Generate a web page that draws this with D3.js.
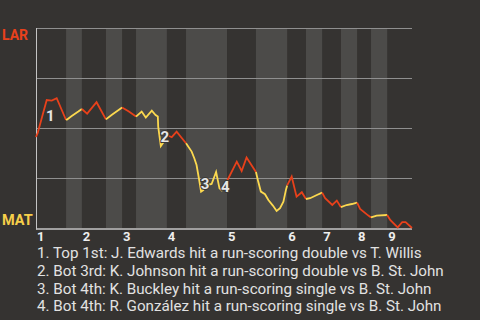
<!DOCTYPE html>
<html><head><meta charset="utf-8">
<script src="https://cdn.jsdelivr.net/npm/d3@7"></script>
<style>html,body{margin:0;padding:0;background:#353331;}svg{display:block;}</style>
</head><body><svg id="c" width="480" height="320"></svg>
<script>
// Game progress (0-100) at which each half-inning starts (top 1st ... top 9th)
const halfStarts = [0, 8.0, 12.2, 18.6, 22.9, 26.6, 34.8, 39.9, 50.8, 58.5, 66.8, 71.8, 76.1, 81.1, 85.4, 89.1, 93.4];
const gameEnd = 100;
const inningLabels = ["1","2","3","4","5","6","7","8","9"];
// Win probability line: game progress and LAR win probability (%)
const progress = [0,0.45,2.85,4.2,5.5,8.0, 8.3,9.5,11.25,12.2, 13.6,16.1,18.6, 20.1,22.9, 24.7,26.6,
  28.1,29.2,30.8,31.8,32.4,32.5,33.2,33.9,34.8, 36.1,37.4,39.9,
  41.4,42.1,42.7,43.4,43.9,44.5,45.4,46.7,47.9,48.8,49.4,50.3,50.8,
  53.4,54.7,56.0,58.5, 59.1,59.8,60.9,61.8,63.0,64.0,64.9,65.8,66.5,66.8,
  68.0,69.3,70.7,71.8, 72.9,74.7,76.1, 76.9,78.8,80.0,81.1, 82.6,84.0,85.4,
  86.2,88.4,89.1, 90.6,93.4, 94.2,96.2,97.4,98.3,100];
const larWinProb = [45.5,47.5,64,63.7,64.9,54, 54.3,56,58.2,59.5, 57.2,62.9,54.3, 56.5,60.3, 58.3,55.7,
  58.2,55.2,58.7,56.5,55.7,50.7,41,42.9,46.5, 45.4,48.2,42.4,
  38.2,34.9,31.5,24,18.2,19,21.5,22,28,19.8,18.8,21.5,23.5,
  33.2,28.5,35.3,28, 23.2,18.2,16.9,14,11.2,8.5,9.9,13.2,19.3,21.3,
  25.7,15.7,17.9,14.5, 14.9,16.5,17.7, 14.9,11.5,13.7,10.4, 11.5,12,12.7,
  9.5,6.2,5.3, 6.2,6.5, 4,0.3,2.9,2.9,0];
// Key plays: index into the line points
const keyPlayIndex = [2, 23, 33, 39];
const keyPlayText = [
  "1. Top 1st: J. Edwards hit a run-scoring double vs T. Willis",
  "2. Bot 3rd: K. Johnson hit a run-scoring double vs B. St. John",
  "3. Bot 4th: K. Buckley hit a run-scoring single vs B. St. John",
  "4. Bot 4th: R. González hit a run-scoring single vs B. St. John"
];
const teamTop = "LAR", teamBottom = "MAT";
const gridValues = [25, 50, 75, 100];

const svg = d3.select("#c");
const W = 480, H = 320;
const m = {l: 36, r: 68, t: 28, b: 92};
const x = d3.scaleLinear().domain([0, gameEnd]).range([m.l, W - m.r]);
const y = d3.scaleLinear().domain([0, 100]).range([H - m.b, m.t]);
const RED = "#e8411b", YEL = "#fcd94f";

svg.append("rect").attr("width", W).attr("height", H).attr("fill", "#353331");

// half-inning bands
const halves = halfStarts.map((s, i) => ({s, e: i + 1 < halfStarts.length ? halfStarts[i + 1] : gameEnd, top: i % 2 === 0}));
svg.append("g").selectAll("rect").data(halves.filter(h => !h.top)).join("rect")
  .attr("x", d => x(d.s)).attr("width", d => x(d.e) - x(d.s))
  .attr("y", y(100)).attr("height", y(0) - y(100))
  .attr("fill", "#4c4b49");

// grid
svg.append("g").selectAll("line").data(gridValues).join("line")
  .attr("x1", x(0)).attr("x2", x(gameEnd))
  .attr("y1", d => Math.round(y(d)) + 0.5).attr("y2", d => Math.round(y(d)) + 0.5)
  .attr("stroke", "#8f8f8f").attr("stroke-width", 1);

// axes lines
svg.append("line").attr("x1", x(0) + 0.5).attr("x2", x(0) + 0.5).attr("y1", y(100)).attr("y2", y(0) + 1.5)
  .attr("stroke", "#c4c4c4").attr("stroke-width", 1);
svg.append("line").attr("x1", x(0)).attr("x2", x(gameEnd)).attr("y1", y(0) + 1).attr("y2", y(0) + 1)
  .attr("stroke", "#c4c4c4").attr("stroke-width", 1.5);

// line segments per half inning
const pts = progress.map((p, i) => ({p, v: larWinProb[i]}));
const lineGen = d3.line().x(d => x(d.p)).y(d => y(d.v));
halves.forEach(h => {
  const seg = pts.filter(d => d.p >= h.s - 1e-6 && d.p <= h.e + 1e-6);
  svg.append("path").datum(seg).attr("d", lineGen)
    .attr("fill", "none").attr("stroke", h.top ? RED : YEL)
    .attr("stroke-width", 1.8).attr("stroke-linejoin", "miter");
});

// key play labels
const labelOff = [[3.5, 16], [4, -9], [4, -7.5], [3.5, -3]];
svg.append("g").selectAll("text").data(keyPlayIndex).join("text")
  .attr("x", (d, i) => x(pts[d].p) + labelOff[i][0])
  .attr("y", (d, i) => y(pts[d].v) + labelOff[i][1])
  .attr("text-anchor", "middle").attr("dominant-baseline", "central")
  .attr("font-family", "Roboto, sans-serif").attr("font-weight", "bold").attr("font-size", 15)
  .attr("fill", "#e6e6e6").attr("stroke", "#3a3835").attr("stroke-width", 2).attr("paint-order", "stroke")
  .text((d, i) => i + 1);

// team labels
svg.append("text").attr("x", 2).attr("y", y(100) + 11.5).text(teamTop)
  .attr("font-family", "Roboto, sans-serif").attr("font-weight", "bold").attr("font-size", 14).attr("fill", RED);
svg.append("text").attr("x", 2).attr("y", y(0) - 3).text(teamBottom)
  .attr("font-family", "Roboto, sans-serif").attr("font-weight", "bold").attr("font-size", 14.5).attr("fill", "#f6cf4a");

// inning labels
svg.append("g").selectAll("text").data(inningLabels).join("text")
  .attr("x", (d, i) => x(halfStarts[i * 2]) + 1)
  .attr("y", y(0) + 13)
  .attr("font-family", "Roboto, sans-serif").attr("font-weight", "bold").attr("font-size", 13)
  .attr("fill", "#eeeeee").text(d => d);

// key play text
svg.append("g").selectAll("text").data(keyPlayText).join("text")
  .attr("x", 37).attr("y", (d, i) => 258.3 + i * 17.6)
  .attr("font-family", "Roboto, sans-serif").attr("font-size", 15.2)
  .attr("fill", "#e2e2e2").text(d => d);
</script></body></html>
